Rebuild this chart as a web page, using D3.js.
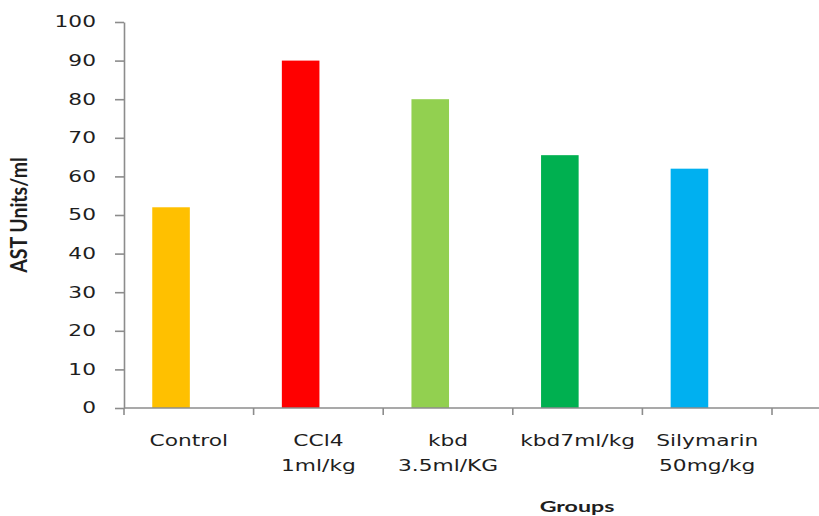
<!DOCTYPE html>
<html>
<head>
<meta charset="utf-8">
<script src="https://cdn.jsdelivr.net/npm/d3@7"></script>
<style>
  html, body { margin: 0; padding: 0; background: #fff; }
  svg { display: block; }
</style>
</head>
<body>
<svg id="chart" width="819" height="516"></svg>
<script>
// AST activity by treatment group
const groups = ["Control", "CCl4 1ml/kg", "kbd 3.5ml/KG", "kbd7ml/kg", "Silymarin 50mg/kg"];
const groupLines = [["Control"], ["CCl4", "1ml/kg"], ["kbd", "3.5ml/KG"], ["kbd7ml/kg"], ["Silymarin", "50mg/kg"]];
const astValues = [52, 90, 80, 65.5, 62];
const barColors = ["#FFC000", "#FF0000", "#92D050", "#00B050", "#00B0F0"];
const yTicks = [0, 10, 20, 30, 40, 50, 60, 70, 80, 90, 100];

const svg = d3.select("#chart");
const stretch = 1.45;               // horizontal text widening
const axisColor = "#8c8c8c";
const textColor = "#1e1e1e";
const tickFont = "'DejaVu Sans', Verdana, sans-serif";

const x = d3.scaleBand().domain(groups).range([124, 772]).padding(0);
const y = d3.scaleLinear().domain([0, 100]).range([408, 22]);

// Bars
svg.append("g").selectAll("rect")
  .data(groups)
  .join("rect")
  .attr("x", (d) => x(d) + x.bandwidth() * 0.218)
  .attr("width", x.bandwidth() * 0.29)
  .attr("y", (d, i) => y(astValues[i]))
  .attr("height", (d, i) => y(0) - y(astValues[i]))
  .attr("fill", (d, i) => barColors[i]);

// Y axis
const yAxis = d3.axisLeft(y).tickValues(yTicks).tickSizeInner(9).tickSizeOuter(0).tickPadding(0);
const gy = svg.append("g").attr("transform", "translate(124,0)").call(yAxis);
gy.select(".domain").attr("stroke", axisColor).attr("stroke-width", 1.6);
gy.selectAll(".tick line").attr("stroke", axisColor).attr("stroke-width", 1.6);
gy.selectAll(".tick text")
  .attr("x", -28 / stretch)
  .attr("transform", `scale(${stretch},1)`)
  .attr("font-family", tickFont)
  .attr("font-size", 15)
  .attr("fill", textColor);

// X axis: baseline extends to the right edge, ticks at group boundaries
const gx = svg.append("g").attr("transform", "translate(0,408)");
gx.append("line")
  .attr("x1", 124).attr("x2", 819).attr("y1", 0).attr("y2", 0)
  .attr("stroke", axisColor).attr("stroke-width", 1.6);
const boundaries = groups.map((g) => x(g)).concat([x.range()[1]]);
gx.selectAll("line.tick")
  .data(boundaries)
  .join("line")
  .attr("class", "tick")
  .attr("x1", (d) => d).attr("x2", (d) => d)
  .attr("y1", 0).attr("y2", 7)
  .attr("stroke", axisColor).attr("stroke-width", 1.6);

// Category labels
const labels = svg.append("g");
groups.forEach((g, i) => {
  const cx = x(g) + x.bandwidth() / 2;
  const t = labels.append("text")
    .attr("transform", `translate(${cx},446) scale(${stretch},1)`)
    .attr("text-anchor", "middle")
    .attr("font-family", tickFont)
    .attr("font-size", 15)
    .attr("fill", textColor);
  groupLines[i].forEach((line, j) => {
    t.append("tspan").attr("x", 0).attr("y", j * 25).text(line);
  });
});

// Axis titles
svg.append("text")
  .attr("transform", `translate(577,512) scale(${stretch},1)`)
  .attr("text-anchor", "middle")
  .attr("font-family", "Lato, 'Open Sans', sans-serif")
  .attr("font-weight", "bold")
  .attr("font-size", 16)
  .attr("fill", textColor)
  .text("Groups");

svg.append("text")
  .attr("transform", "translate(27,215) scale(1.2,1) rotate(-90)")
  .attr("text-anchor", "middle")
  .attr("font-family", "Lato, 'Open Sans', sans-serif")
  .attr("font-weight", "bold")
  .attr("font-size", 19.5)
  .attr("fill", textColor)
  .text("AST Units/ml");
</script>
</body>
</html>
